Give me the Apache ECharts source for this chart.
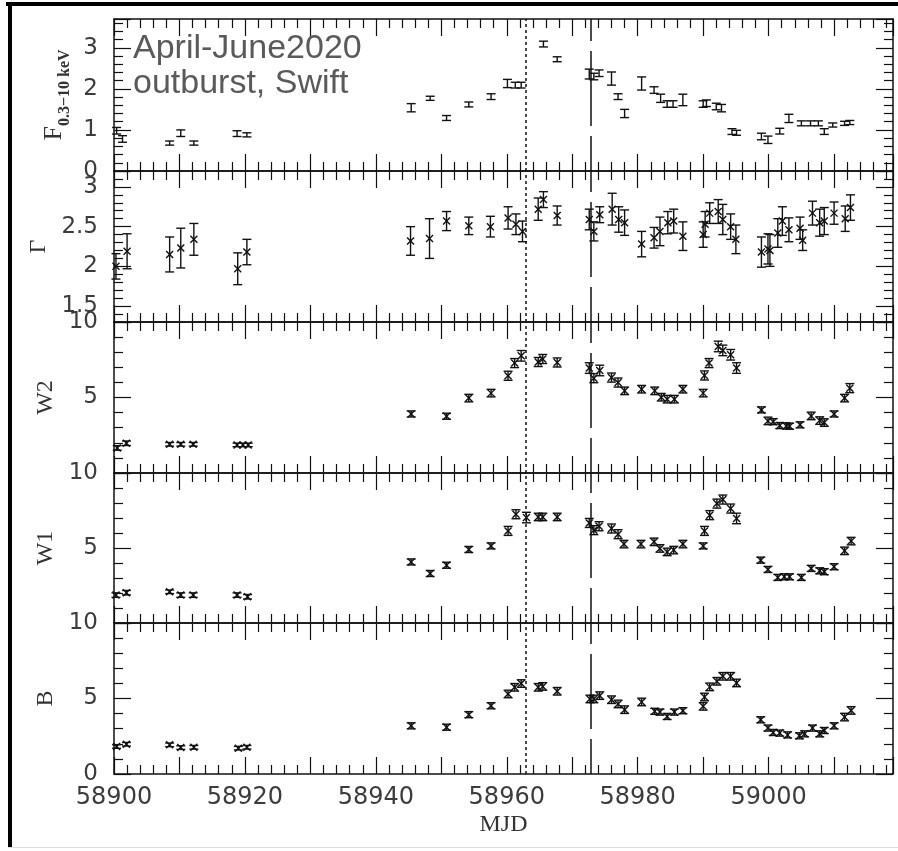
<!DOCTYPE html>
<html><head><meta charset="utf-8">
<script src="https://cdn.jsdelivr.net/npm/echarts@6/dist/echarts.min.js"></script>
<style>html,body{margin:0;padding:0;background:#fff}#c{width:898px;height:851px}</style>
</head><body><div id="c"></div>
<script>
// ---- data: [MJD, value, error] ----
const xTickLabels = [58900, 58920, 58940, 58960, 58980, 59000];
const eventMjd = [58962.9, 58972.9];

const fluxData = [
 [58900.4,0.98,0.08],[58901.3,0.78,0.08],[58908.5,0.68,0.05],[58910.2,0.92,0.08],[58912.2,0.68,0.05],
 [58918.8,0.91,0.07],[58920.3,0.88,0.05],[58945.4,1.54,0.10],[58948.3,1.77,0.05],[58950.8,1.29,0.06],
 [58954.2,1.62,0.06],[58957.6,1.81,0.07],[58960.1,2.13,0.10],[58961.3,2.09,0.07],[58962.2,2.09,0.07],
 [58965.6,3.09,0.07],[58967.7,2.72,0.06],[58972.6,2.36,0.12],[58973.3,2.30,0.08],[58974.1,2.38,0.08],
 [58976.0,2.25,0.16],[58977.0,1.81,0.07],[58978.0,1.40,0.10],[58980.6,2.13,0.16],[58982.5,1.97,0.08],
 [58983.5,1.77,0.10],[58984.5,1.63,0.08],[58985.4,1.63,0.08],[58986.9,1.73,0.14],[58990.0,1.63,0.08],
 [58990.5,1.65,0.08],[58992.0,1.57,0.08],[58992.8,1.53,0.09],[58994.4,0.96,0.07],[58995.1,0.93,0.06],
 [58998.9,0.84,0.08],[58999.9,0.76,0.09],[59001.7,0.97,0.07],[59003.1,1.28,0.10],[59005.0,1.16,0.06],
 [59006.4,1.16,0.06],[59007.6,1.16,0.06],[59008.5,0.96,0.07],[59009.8,1.12,0.05],[59011.6,1.16,0.05],
 [59012.4,1.18,0.05]
];

const gammaData = [
 [58900.3,2.00,0.16],[58902.0,2.19,0.22],[58908.5,2.15,0.22],[58910.2,2.23,0.25],[58912.2,2.34,0.20],
 [58918.9,1.97,0.20],[58920.3,2.18,0.16],[58945.3,2.32,0.18],[58948.2,2.35,0.25],[58950.8,2.57,0.12],
 [58954.2,2.51,0.11],[58957.5,2.50,0.13],[58960.2,2.61,0.14],[58961.4,2.53,0.13],[58962.4,2.44,0.13],
 [58964.8,2.72,0.14],[58965.6,2.84,0.10],[58967.7,2.64,0.12],[58972.6,2.59,0.13],[58973.3,2.44,0.12],
 [58974.2,2.65,0.10],[58976.1,2.72,0.20],[58977.1,2.59,0.16],[58978.0,2.55,0.16],[58980.6,2.28,0.16],
 [58982.5,2.36,0.13],[58983.4,2.44,0.18],[58984.6,2.55,0.14],[58985.5,2.57,0.15],[58986.9,2.38,0.18],
 [58990.0,2.40,0.16],[58990.3,2.53,0.16],[58991.0,2.67,0.13],[58992.3,2.69,0.15],[58993.0,2.59,0.19],
 [58994.2,2.50,0.16],[58995.0,2.34,0.18],[58998.9,2.18,0.19],[58999.9,2.22,0.19],[59000.2,2.20,0.20],
 [59001.4,2.42,0.18],[59002.1,2.57,0.18],[59003.1,2.46,0.15],[59004.8,2.48,0.14],[59005.2,2.33,0.13],
 [59006.7,2.67,0.15],[59007.8,2.55,0.17],[59008.5,2.57,0.17],[59010.0,2.67,0.14],[59011.7,2.60,0.16],
 [59012.5,2.74,0.16]
];

const w2Data = [
 [58900.5,1.66,0.15],[58901.9,1.97,0.15],[58908.5,1.90,0.12],[58910.2,1.90,0.12],[58912.1,1.90,0.12],
 [58918.8,1.86,0.12],[58919.7,1.86,0.12],[58920.5,1.86,0.12],[58945.4,3.91,0.2],[58950.8,3.76,0.2],
 [58954.2,4.96,0.25],[58957.6,5.29,0.25],[58960.2,6.44,0.3],[58961.2,7.28,0.3],[58962.2,7.76,0.35],
 [58964.8,7.35,0.3],[58965.5,7.55,0.3],[58967.7,7.32,0.3],[58972.6,6.95,0.35],[58973.3,6.28,0.3],
 [58974.2,6.79,0.35],[58976.0,6.32,0.3],[58977.0,5.99,0.3],[58978.0,5.44,0.25],[58980.6,5.55,0.25],
 [58982.6,5.44,0.25],[58983.6,5.02,0.25],[58984.5,4.89,0.25],[58985.6,4.89,0.25],[58986.9,5.55,0.25],
 [58990.0,5.29,0.25],[58990.2,6.46,0.3],[58990.9,7.28,0.3],[58992.3,8.38,0.35],[58993.0,8.12,0.35],
 [58994.2,7.83,0.35],[58995.1,6.95,0.35],[58998.9,4.18,0.2],[58999.9,3.45,0.25],[59000.7,3.40,0.2],
 [59001.7,3.14,0.2],[59002.7,3.12,0.2],[59003.2,3.10,0.2],[59004.8,3.19,0.2],[59006.5,3.78,0.25],
 [59007.8,3.47,0.25],[59008.5,3.34,0.25],[59010.0,3.91,0.2],[59011.6,4.96,0.25],[59012.4,5.62,0.3]
];

const w1Data = [
 [58900.3,1.86,0.15],[58901.9,2.02,0.15],[58908.5,2.08,0.12],[58910.2,1.86,0.15],[58912.1,1.86,0.15],
 [58918.8,1.86,0.15],[58920.4,1.75,0.15],[58945.4,4.07,0.2],[58948.3,3.30,0.2],[58950.8,3.85,0.2],
 [58954.2,4.90,0.2],[58957.6,5.14,0.2],[58960.2,6.14,0.3],[58961.4,7.25,0.3],[58963.0,7.03,0.35],
 [58964.8,7.07,0.25],[58965.5,7.07,0.25],[58967.7,7.07,0.25],[58972.6,6.67,0.3],[58973.3,6.19,0.3],
 [58974.1,6.45,0.3],[58976.0,6.30,0.3],[58977.0,5.92,0.3],[58977.9,5.26,0.25],[58980.5,5.26,0.25],
 [58982.5,5.41,0.25],[58983.4,4.97,0.25],[58984.5,4.74,0.25],[58985.5,4.86,0.25],[58986.9,5.26,0.25],
 [58990.0,5.14,0.2],[58990.2,6.14,0.3],[58991.0,7.19,0.3],[58992.1,7.96,0.3],[58993.0,8.23,0.3],
 [58994.2,7.63,0.3],[58995.1,6.97,0.35],[58998.8,4.19,0.2],[58999.9,3.57,0.2],[59001.4,3.04,0.2],
 [59002.4,3.08,0.2],[59003.2,3.08,0.2],[59005.0,3.04,0.2],[59006.5,3.64,0.2],[59007.8,3.48,0.2],
 [59008.5,3.42,0.2],[59010.0,3.75,0.2],[59011.6,4.81,0.25],[59012.6,5.46,0.25]
];

const bData = [
 [58900.4,1.82,0.12],[58901.9,1.97,0.12],[58908.5,1.93,0.12],[58910.2,1.75,0.12],[58912.2,1.77,0.12],
 [58919.0,1.71,0.12],[58920.3,1.77,0.12],[58945.4,3.19,0.2],[58950.8,3.10,0.2],[58954.2,3.93,0.2],
 [58957.6,4.52,0.2],[58960.2,5.30,0.25],[58961.2,5.74,0.25],[58962.2,5.99,0.25],[58964.8,5.74,0.25],
 [58965.5,5.80,0.25],[58967.7,5.48,0.25],[58972.7,4.97,0.25],[58973.3,4.97,0.25],[58974.2,5.19,0.25],
 [58976.0,4.92,0.25],[58977.0,4.64,0.25],[58978.0,4.26,0.25],[58980.6,4.77,0.25],[58982.6,4.15,0.2],
 [58983.4,4.10,0.2],[58984.5,3.81,0.2],[58985.6,4.10,0.2],[58986.9,4.19,0.2],[58990.0,4.48,0.25],
 [58990.2,5.10,0.25],[58991.0,5.77,0.25],[58992.1,6.14,0.25],[58993.0,6.47,0.25],[58994.2,6.47,0.25],
 [58995.1,6.03,0.25],[58998.8,3.59,0.2],[58999.9,3.04,0.2],[59000.7,2.75,0.2],[59001.7,2.71,0.2],
 [59002.9,2.59,0.2],[59004.7,2.53,0.2],[59005.5,2.66,0.2],[59006.7,3.04,0.2],[59007.8,2.66,0.2],
 [59008.5,2.88,0.2],[59010.0,3.19,0.2],[59011.6,3.77,0.25],[59012.6,4.21,0.25]
];

// ---- layout ----
const INK = '#111';
const grids = [[19,152],[171,151],[322,151],[473,150],[623,151]];
const panels = [
  {data: fluxData, marker: false, y: {min:0, max:3.7, interval:1, showMinLabel:true, showMaxLabel:false},
   name: '{f|F}{s|0.3\u221210 keV}', nameGap: 44},
  {data: gammaData, marker: true, y: {min:1.3, max:3.2, splitNumber:4, showMinLabel:false, showMaxLabel:false},
   name: '\u0393', nameGap: 62},
  {data: w2Data, marker: true, y: {min:0, max:10, interval:5, showMinLabel:false, showMaxLabel:true},
   name: 'W2', nameGap: 56},
  {data: w1Data, marker: true, y: {min:0, max:10, interval:5, showMinLabel:false, showMaxLabel:true},
   name: 'W1', nameGap: 56},
  {data: bData, marker: true, y: {min:0, max:10, interval:5, showMinLabel:true, showMaxLabel:true},
   name: 'B', nameGap: 56}
];

const tickCommon = {
  axisLine: {show: true, onZero: false, lineStyle: {color: INK, width: 1.5}},
  axisTick: {show: true, inside: true, length: 17, lineStyle: {color: INK, width: 1.2}},
  minorTick: {show: true, splitNumber: 5, length: 9, lineStyle: {color: INK, width: 1.2}},
  splitLine: {show: false},
  minorSplitLine: {show: false}
};

const xAxis = [], yAxis = [], series = [];
panels.forEach((p, i) => {
  const last = i === panels.length - 1;
  const xBase = Object.assign({type: 'value', gridIndex: i, min: 58900, max: 59019, interval: 10}, JSON.parse(JSON.stringify(tickCommon)));
  xAxis.push(Object.assign({}, xBase, {
    position: 'bottom',
    axisLabel: last ? {show: true, margin: 12, fontFamily: 'DejaVu Sans', fontSize: 24, color: '#3c3c3c',
      formatter: v => xTickLabels.indexOf(v) >= 0 ? String(v) : ''} : {show: false},
    name: last ? 'MJD' : '', nameLocation: 'middle', nameGap: 39,
    nameTextStyle: {fontFamily: 'Liberation Serif', fontSize: 24, color: '#333', lineHeight: 24}
  }));
  xAxis.push(Object.assign({}, JSON.parse(JSON.stringify(xBase)), {position: 'top', axisLabel: {show: false}}));

  const yBase = Object.assign({type: 'value', gridIndex: i}, p.y, JSON.parse(JSON.stringify(tickCommon)));
  const nameStyle = {fontFamily: 'Liberation Serif', fontSize: 24, color: '#333', lineHeight: 24,
    rich: {
      f: {fontFamily: 'Liberation Serif', fontSize: 26, lineHeight: 26, color: '#333', verticalAlign: 'top'},
      s: {fontFamily: 'Liberation Serif', fontSize: 16, fontWeight: 'bold', lineHeight: 16, color: '#333',
          verticalAlign: 'top', padding: [15, 0, 0, 0]}
    }};
  yAxis.push(Object.assign({}, yBase, {
    position: 'left',
    axisLabel: {show: true, margin: 16, fontFamily: 'DejaVu Sans', fontSize: 23, color: '#3c3c3c',
      showMinLabel: p.y.showMinLabel, showMaxLabel: p.y.showMaxLabel},
    name: p.name, nameLocation: 'middle', nameGap: p.nameGap, nameTextStyle: nameStyle
  }));
  yAxis.push(Object.assign({}, JSON.parse(JSON.stringify(yBase)), {position: 'right', axisLabel: {show: false}}));

  series.push({
    type: 'custom', xAxisIndex: 2 * i, yAxisIndex: 2 * i, data: p.data, encode: {x: 0, y: 1},
    z: 5, silent: true, renderItem: makeRender(p.marker)
  });
  series.push({
    type: 'line', xAxisIndex: 2 * i, yAxisIndex: 2 * i, data: [], silent: true,
    markLine: {silent: true, symbol: 'none', animation: false, label: {show: false},
      data: [
        {xAxis: eventMjd[0], lineStyle: {color: INK, width: 1.5, type: [3, 3]}},
        {xAxis: eventMjd[1], lineStyle: {color: INK, width: 1.5, type: [75, 10], dashOffset: 40}}
      ]}
  });
});

function makeRender(marker) {
  return function (params, api) {
    const x = api.value(0), y = api.value(1), e = api.value(2);
    const c = api.coord([x, y]), lo = api.coord([x, y - e]), hi = api.coord([x, y + e]);
    const st = () => ({stroke: INK, lineWidth: 1.4});
    const cw = 4.5, m = 3.5;
    const ch = [
      {type: 'line', shape: {x1: c[0], y1: lo[1], x2: c[0], y2: hi[1]}, style: st()},
      {type: 'line', shape: {x1: c[0] - cw, y1: lo[1], x2: c[0] + cw, y2: lo[1]}, style: st()},
      {type: 'line', shape: {x1: c[0] - cw, y1: hi[1], x2: c[0] + cw, y2: hi[1]}, style: st()}
    ];
    if (marker) {
      ch.push({type: 'line', shape: {x1: c[0] - m, y1: c[1] - m, x2: c[0] + m, y2: c[1] + m}, style: st()});
      ch.push({type: 'line', shape: {x1: c[0] - m, y1: c[1] + m, x2: c[0] + m, y2: c[1] - m}, style: st()});
    }
    return {type: 'group', children: ch};
  };
}

const chart = echarts.init(document.getElementById('c'), null, {renderer: 'canvas'});
chart.setOption({
  animation: false,
  backgroundColor: '#fff',
  grid: grids.map(g => ({left: 114, right: 5, top: g[0], height: g[1], containLabel: false})),
  xAxis: xAxis,
  yAxis: yAxis,
  series: series,
  graphic: [
    {type: 'rect', shape: {x: 6, y: 2, width: 892, height: 4}, style: {fill: '#000'}, z: 100},
    {type: 'rect', shape: {x: 8, y: 2, width: 4, height: 846}, style: {fill: '#000'}, z: 100},
    {type: 'rect', shape: {x: 8, y: 847, width: 890, height: 1}, style: {fill: '#ddd'}, z: 100},
    {type: 'text', x: 133, y: 31, z: 100,
     style: {text: 'April-June2020\noutburst, Swift', fontFamily: 'Liberation Sans', fontSize: 34,
             lineHeight: 35, fill: '#5a5a5a', verticalAlign: 'top', align: 'left'}}
  ]
});
</script>
</body></html>
